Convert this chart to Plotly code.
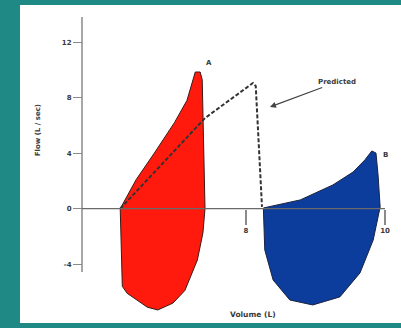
import plotly.graph_objects as go

# ---- data (litres, L/sec) ----
red_x = [6.19, 6.42, 6.68, 6.97, 7.15, 7.24, 7.27, 7.34, 7.37, 7.41, 7.38, 7.30, 7.12, 6.95, 6.73, 6.58, 6.29, 6.22, 6.20, 6.19]
red_y = [0.0, 2.1, 4.0, 6.2, 7.8, 9.4, 9.85, 9.85, 9.3, 0.0, -1.75, -3.7, -5.9, -6.8, -7.3, -7.1, -6.1, -5.6, -1.75, 0.0]

blue_x = [8.25, 8.78, 9.25, 9.54, 9.71, 9.81, 9.87, 9.90, 9.93, 9.83, 9.64, 9.35, 8.96, 8.63, 8.39, 8.27, 8.25]
blue_y = [0.05, 0.63, 1.71, 2.64, 3.51, 4.16, 4.01, 2.43, 0.12, -2.26, -4.63, -6.36, -6.94, -6.58, -5.14, -2.97, 0.0]

pred_x = [6.19, 7.41, 8.10, 8.14, 8.23]
pred_y = [0.0, 6.53, 9.06, 8.84, 0.13]

y_tick_vals = [12, 8, 4, 0, -4]
y_tick_text = ["12", "8", "4", "0", "-4"]
x_tick_vals = [8, 10]
x_tick_text = ["8", "10"]

# ---- layout constants ----
X_MIN, X_MAX = 4.748, 10.23
Y_MIN, Y_MAX = -8.24, 14.68
Y_AXIS_X = 5.64
Y_LINE_LO, Y_LINE_HI = -4.56, 13.82
X_LINE_HI = 10.0

TEAL = "#1f8a85"
FONT = dict(family="DejaVu Sans", size=7, color="#3a3a3a", weight="bold")

fig = go.Figure()
fig.add_trace(go.Scatter(x=red_x, y=red_y, mode="lines", fill="toself",
                         fillcolor="#ff1a0d", line=dict(color="#3a1a14", width=1),
                         hoverinfo="skip"))
fig.add_trace(go.Scatter(x=blue_x, y=blue_y, mode="lines", fill="toself",
                         fillcolor="#0d3d9c", line=dict(color="#1a2240", width=1),
                         hoverinfo="skip"))
fig.add_trace(go.Scatter(x=pred_x, y=pred_y, mode="lines",
                         line=dict(color="#333333", width=2, dash="4px,2px"),
                         hoverinfo="skip"))

shapes = [
    dict(type="line", xref="x", yref="y", x0=Y_AXIS_X, x1=Y_AXIS_X,
         y0=Y_LINE_LO, y1=Y_LINE_HI, line=dict(color="#8a8a8a", width=1.5), layer="above"),
    dict(type="line", xref="x", yref="y", x0=Y_AXIS_X, x1=X_LINE_HI,
         y0=0, y1=0, line=dict(color="#6a6a6a", width=1.2), layer="above"),
]

annotations = [
    dict(x=7.47, y=10.49, xref="x", yref="y", text="A", showarrow=False, font=FONT),
    dict(x=10.01, y=3.86, xref="x", yref="y", text="B", showarrow=False, font=FONT),
    dict(x=8.345, y=7.33, xref="x", yref="y", text="Predicted", showarrow=True,
         ax=67, ay=-25, arrowhead=2, arrowsize=1, arrowwidth=1.2,
         arrowcolor="#444444", font=FONT, xanchor="center", yanchor="middle"),
    dict(x=8.10, y=-7.66, xref="x", yref="y", text="Volume (L)", showarrow=False,
         font=dict(FONT, size=7.5)),
    dict(x=5.01, y=5.67, xref="x", yref="y", text="Flow (L / sec)", showarrow=False,
         textangle=-90, font=FONT),
]

fig.update_layout(
    width=401, height=328,
    margin=dict(l=20, r=0, t=5, b=5),
    paper_bgcolor=TEAL, plot_bgcolor="white",
    showlegend=False,
    shapes=shapes, annotations=annotations,
    xaxis=dict(range=[X_MIN, X_MAX], anchor="free",
               position=(0 - Y_MIN) / (Y_MAX - Y_MIN),
               tickvals=x_tick_vals, ticktext=x_tick_text,
               ticks="outside", ticklen=15, tickwidth=1.5, tickcolor="#8a8a8a",
               showgrid=False, zeroline=False, showline=False,
               tickfont=FONT, fixedrange=True),
    yaxis=dict(range=[Y_MIN, Y_MAX], anchor="free",
               position=(Y_AXIS_X - X_MIN) / (X_MAX - X_MIN),
               tickvals=y_tick_vals, ticktext=y_tick_text,
               ticks="outside", ticklen=9, tickwidth=1.2, tickcolor="#8a8a8a",
               showgrid=False, zeroline=False, showline=False,
               tickfont=FONT, fixedrange=True),
)

fig.write_html(
    "out.html",
    config={"displayModeBar": False},
    post_script="document.body.style.margin='0';document.body.style.padding='0';"
                "document.body.style.overflow='hidden';",
)
